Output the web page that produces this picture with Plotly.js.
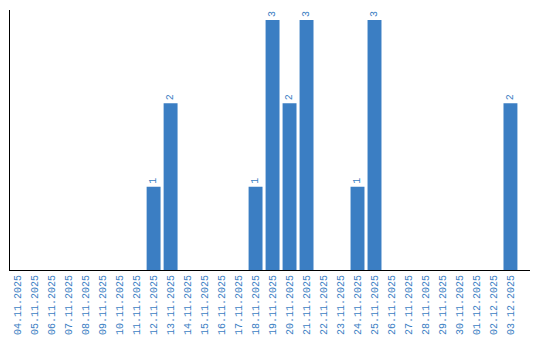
<!DOCTYPE html>
<html><head><meta charset="utf-8">
<script src="https://cdn.plot.ly/plotly-3.0.1.min.js"></script>
<style>html,body{margin:0;padding:0;background:#fff}#c{width:540px;height:340px}</style>
</head><body><div id="c"></div>
<script>
const dates = ["04.11.2025","05.11.2025","06.11.2025","07.11.2025","08.11.2025","09.11.2025","10.11.2025","11.11.2025","12.11.2025","13.11.2025","14.11.2025","15.11.2025","16.11.2025","17.11.2025","18.11.2025","19.11.2025","20.11.2025","21.11.2025","22.11.2025","23.11.2025","24.11.2025","25.11.2025","26.11.2025","27.11.2025","28.11.2025","29.11.2025","30.11.2025","01.12.2025","02.12.2025","03.12.2025"];
const counts = [0,0,0,0,0,0,0,0,1,2,0,0,0,0,1,3,2,3,0,0,1,3,0,0,0,0,0,0,0,2];
const labels = counts.map(v => v > 0 ? String(v) : "");
const blue = "#3b7ec3";
Plotly.newPlot("c", [{
  type: "bar", x: dates, y: counts, text: labels,
  textposition: "outside", textangle: -90, cliponaxis: false,
  textfont: {family: "Liberation Mono", size: 10, color: blue},
  marker: {color: blue}, hoverinfo: "none"
}], {
  width: 540, height: 340,
  margin: {l: 10, r: 10, t: 10, b: 70},
  paper_bgcolor: "#fff", plot_bgcolor: "#fff",
  bargap: 0.18, showlegend: false,
  xaxis: {type: "category", range: [-0.45, 30.15], showline: true, linecolor: "#000", linewidth: 1,
    showgrid: false, ticks: "", tickangle: -90,
    tickfont: {family: "Liberation Mono", size: 10, color: blue}},
  yaxis: {range: [0, 3.12], showline: true, linecolor: "#000", linewidth: 1,
    showgrid: false, zeroline: false, showticklabels: false, ticks: ""}
}, {displayModeBar: false, staticPlot: true});
</script></body></html>
